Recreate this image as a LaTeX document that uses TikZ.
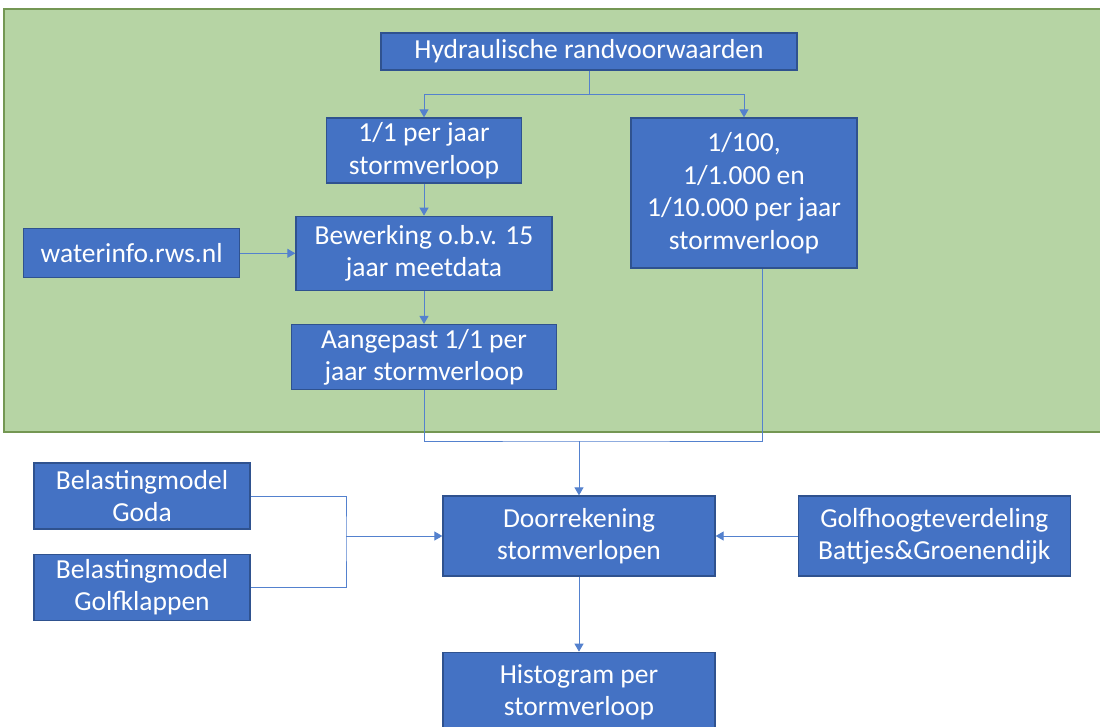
\documentclass[tikz,border=0pt]{standalone}
\usepackage{fontspec}
\setmainfont{Carlito}
\usepackage{xcolor}
\usepackage{tikz}
\usetikzlibrary{arrows.meta,positioning}
\definecolor{boxbg}{RGB}{68,114,196}
\definecolor{boxline}{RGB}{47,82,143}
\definecolor{areabg}{RGB}{182,212,164}
\definecolor{arealine}{RGB}{116,151,83}
\definecolor{linkline}{RGB}{84,129,206}
\newcommand{\boxfont}{\fontsize{27.5}{32.5}\selectfont}
\tikzset{
  box/.style={draw=boxline, fill=boxbg, line width=1.3pt, text=white,
    align=center, inner sep=0pt, font=\boxfont},
  link/.style={draw=linkline, line width=1pt},
  arrow/.style={link, -{Triangle[length=8pt, width=9pt]}}
}
\begin{document}
\begin{tikzpicture}[x=1pt, y=-1pt]
  \useasboundingbox (0,0) rectangle (1100,726);
  \fill[white] (0,0) rectangle (1100,726);
  % green area
  \draw[fill=areabg, draw=arealine, line width=1.3pt] (4,9) rectangle (1104,432);
  \node[box, minimum width=416pt, minimum height=37pt] (hyd) at (589,51.5)
    {Hydraulische randvoorwaarden};
  \node[box, minimum width=195pt, minimum height=65pt] (one) at (424,150.5)
    {1/1 per jaar\\stormverloop};
  \node[box, minimum width=226pt, minimum height=150pt] (rare) at (744,193)
    {1/100,\\1/1.000 en\\1/10.000 per jaar\\stormverloop};
  \node[box, minimum width=256pt, minimum height=74pt, below=32pt of one] (bew)
    {Bewerking o.b.v. 15\\jaar meetdata};
  \node[box, minimum width=216pt, minimum height=49pt, left=55pt of bew] (wat)
    {waterinfo.rws.nl};
  \node[box, minimum width=265pt, minimum height=65pt, below=33pt of bew] (aang)
    {Aangepast 1/1 per\\jaar stormverloop};
  \node[box, minimum width=272pt, minimum height=80pt] (door) at (579,536)
    {Doorrekening\\stormverlopen};
  \node[box, minimum width=272pt, minimum height=80pt, right=82pt of door] (golfh)
    {Golfhoogteverdeling\\Battjes\&Groenendijk};
  \node[box, minimum width=272pt, minimum height=80pt, below=75pt of door] (hist)
    {Histogram per\\stormverloop};
  \node[box, minimum width=216pt, minimum height=66pt] (goda) at (142,496)
    {Belastingmodel\\Goda};
  \node[box, minimum width=216pt, minimum height=66pt, below=24pt of goda] (golfk)
    {Belastingmodel\\Golfklappen};
  \coordinate (merge) at (579,441);
  \coordinate (loadjoin) at (346,536);
  \draw[arrow] (hyd.south) -- ++(0,24) -| (one.north);
  \draw[arrow] (hyd.south) -- ++(0,24) -| (rare.north);
  \draw[arrow] (one) -- (bew);
  \draw[arrow] (wat) -- (bew);
  \draw[arrow] (bew) -- (aang);
  \draw[link] (aang.south) |- (merge) -| ([xshift=18pt]rare.south);
  \draw[arrow] (merge) -- (door.north);
  \draw[link] (goda.east) -| (loadjoin) |- (golfk.east);
  \draw[arrow] (loadjoin) -- (door.west);
  \draw[arrow] (golfh) -- (door);
  \draw[arrow] (door) -- (hist);
\end{tikzpicture}
\end{document}
